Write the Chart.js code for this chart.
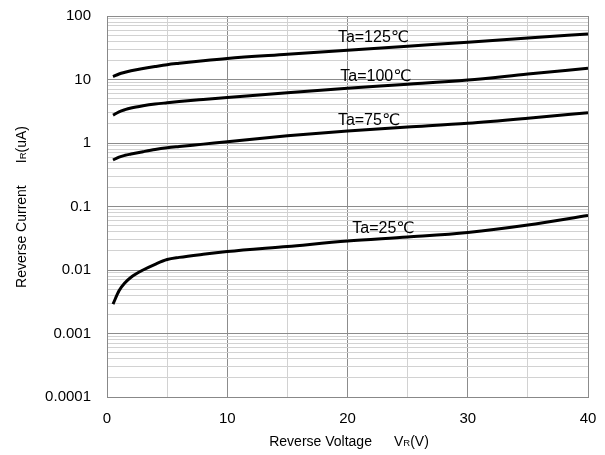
<!DOCTYPE html>
<html lang="en">
<head>
<meta charset="UTF-8">
<title>Reverse Current vs Reverse Voltage</title>
<script src="https://cdn.jsdelivr.net/npm/chart.js"></script>
<style>
  html, body { margin: 0; padding: 0; background: #fff; }
  #wrap { width: 605px; height: 455px; }
</style>
</head>
<body>
<div id="wrap"><canvas id="irChart"></canvas></div>
<script>
// values (uA)
const voltage = [0.5, 1, 1.5, 2, 3, 4, 5, 6, 8, 10, 15, 20, 25, 30, 35, 40];
const ir125 = [11.1, 12.2, 13, 13.7, 14.9, 16, 17.1, 18, 19.8, 21.5, 25, 29, 33.5, 38.5, 45, 52];
const ir100 = [2.75, 3.1, 3.35, 3.55, 3.85, 4.1, 4.3, 4.5, 4.85, 5.2, 6.2, 7.3, 8.4, 9.8, 12.2, 15];
const ir75 = [0.54, 0.6, 0.64, 0.67, 0.73, 0.79, 0.84, 0.88, 0.96, 1.05, 1.3, 1.55, 1.78, 2.04, 2.45, 3.0];
const ir25 = [0.0029, 0.0047, 0.0063, 0.0077, 0.0100, 0.0123, 0.0146, 0.0158, 0.0177, 0.0195, 0.0235, 0.0285, 0.033, 0.039, 0.051, 0.072];

const seriesNames = ['Ta=125℃', 'Ta=100℃', 'Ta=75℃', 'Ta=25℃'];
const nameX = [19.2, 19.4, 19.2, 20.4];
const nameY = [45.8, 11.3, 2.22, 0.0443];

const xTicks = [0, 10, 20, 30, 40];
const yTicks = [0.0001, 0.001, 0.01, 0.1, 1, 10, 100];

const FONT = "'Liberation Sans', 'DejaVu Sans', sans-serif";

function toPoints(ys) {
    return voltage.map((v, i) => ({ x: v, y: ys[i] }));
}

// all gridline positions on the log axis: 1..9 in every decade
const yGrid = [];
for (let i = 0; i < yTicks.length - 1; i++) {
    for (let k = 1; k < 10; k++) yGrid.push(yTicks[i] * k);
}
yGrid.push(yTicks[yTicks.length - 1]);

function isDecade(v) {
    const l = Math.log10(v);
    return Math.abs(l - Math.round(l)) < 1e-9;
}

// curve names and axis titles (with small R)
const textPlugin = {
    id: 'texts',
    afterDatasetsDraw(chart) {
        const c = chart.ctx;
        const xs = chart.scales.x, ys = chart.scales.y;
        c.save();
        c.fillStyle = '#000';
        c.font = '16px ' + FONT;
        c.textAlign = 'left';
        c.textBaseline = 'middle';
        seriesNames.forEach((t, i) => {
            c.fillText(t, xs.getPixelForValue(nameX[i]), ys.getPixelForValue(nameY[i]));
        });
        c.restore();
    },
    afterDraw(chart) {
        const c = chart.ctx;
        // parts: [text, size, gap after]
        function drawParts(parts, cx, cy) {
            let w = 0;
            parts.forEach(p => { c.font = p[1] + 'px ' + FONT; w += c.measureText(p[0]).width + (p[2] || 0); });
            let x = cx - w / 2;
            parts.forEach(p => {
                c.font = p[1] + 'px ' + FONT;
                c.fillText(p[0], x, cy);
                x += c.measureText(p[0]).width + (p[2] || 0);
            });
        }
        c.save();
        c.fillStyle = '#000';
        c.textAlign = 'left';
        c.textBaseline = 'alphabetic';
        drawParts([['Reverse Voltage', 14, 22], ['V', 14], ['R', 9.5], ['(V)', 14]], 349, 446);
        c.translate(26, 207);
        c.rotate(-Math.PI / 2);
        drawParts([['Reverse Current', 14, 22], ['I', 14], ['R', 9.5], ['(uA)', 14]], 0, 0);
        c.restore();
    }
};

const lineStyle = {
    borderColor: '#000',
    borderWidth: 3,
    pointRadius: 0,
    fill: false,
    cubicInterpolationMode: 'monotone'
};

new Chart(document.getElementById('irChart'), {
    type: 'line',
    data: {
        datasets: [
            Object.assign({ label: seriesNames[0], data: toPoints(ir125) }, lineStyle),
            Object.assign({ label: seriesNames[1], data: toPoints(ir100) }, lineStyle),
            Object.assign({ label: seriesNames[2], data: toPoints(ir75) }, lineStyle),
            Object.assign({ label: seriesNames[3], data: toPoints(ir25) }, lineStyle)
        ]
    },
    options: {
        responsive: true,
        maintainAspectRatio: false,
        animation: false,
        layout: { padding: { left: 0, right: 17, top: 16, bottom: 0 } },
        plugins: {
            legend: { display: false },
            tooltip: { enabled: false }
        },
        scales: {
            x: {
                type: 'linear',
                min: 0,
                max: 40,
                afterFit(s) { s.height = 58; s.paddingLeft = 0; s.paddingRight = 0; },
                border: { color: '#888', width: 1 },
                grid: {
                    drawTicks: false,
                    color: ctx => (ctx.tick && ctx.tick.value % 10 === 0) ? '#8c8c8c' : '#d2d2d2'
                },
                ticks: {
                    stepSize: 5,
                    autoSkip: false,
                    maxRotation: 0,
                    padding: 13,
                    color: '#000',
                    font: { family: FONT, size: 15 },
                    callback: v => xTicks.includes(v) ? String(v) : ''
                }
            },
            y: {
                type: 'logarithmic',
                min: 0.0001,
                max: 100,
                afterFit(s) { s.width = 107; s.paddingTop = 0; s.paddingBottom = 0; },
                afterBuildTicks(s) { s.ticks = yGrid.map(v => ({ value: v })); },
                border: { color: '#888', width: 1 },
                grid: {
                    drawTicks: false,
                    color: ctx => (ctx.tick && isDecade(ctx.tick.value)) ? '#8c8c8c' : '#d2d2d2'
                },
                ticks: {
                    autoSkip: false,
                    padding: 16,
                    color: '#000',
                    font: { family: FONT, size: 15 },
                    callback: v => {
                        const t = yTicks.find(d => Math.abs(d - v) / d < 1e-9);
                        return t !== undefined ? String(t) : '';
                    }
                }
            }
        }
    },
    plugins: [textPlugin]
});
</script>
</body>
</html>
